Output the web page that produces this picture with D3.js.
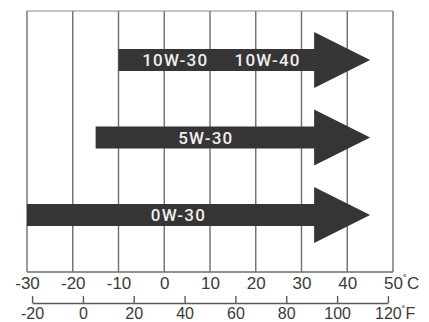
<!DOCTYPE html>
<html>
<head>
<meta charset="utf-8">
<script src="https://cdn.jsdelivr.net/npm/d3@7"></script>
<style>
  body { margin: 0; background: #fff; }
  svg { font-family: Roboto, "Liberation Sans", Arial, sans-serif; font-weight: 500; }
</style>
</head>
<body>
<svg id="chart"></svg>
<script>
// oil grade rows, temperature ranges in °C
const grades = ['10W-30 / 10W-40', '5W-30', '0W-30'];
const minTemp = [-10, -15, -30];
const maxTemp = [45, 45, 45];
const gradeLabels = [['10W-30', '10W-40'], ['5W-30'], ['0W-30']];
const labelTemp = [[2.4, 22.6], [9.1], [3.1]];

const celsiusTicks = [-30, -20, -10, 0, 10, 20, 30, 40, 50];
const fahrenheitTicks = [-20, 0, 20, 40, 60, 80, 100, 120];

const width = 429, height = 322;
const margin = {top: 11, right: 36, bottom: 50, left: 27};

const svg = d3.select('#chart')
    .attr('width', width)
    .attr('height', height);

const x = d3.scaleLinear()
    .domain([-30, 50])
    .range([margin.left, width - margin.right]);

const plotBottom = height - margin.bottom;

const y = d3.scalePoint()
    .domain(grades)
    .range([60, 215]);

const toC = f => (f - 32) * 5 / 9;
const xF = d3.scaleLinear()
    .domain([-20, 120])
    .range([x(toC(-20)), x(toC(120))]);

// grid lines
svg.append('g')
    .selectAll('line')
    .data(celsiusTicks)
    .join('line')
    .attr('x1', d => x(d))
    .attr('x2', d => x(d))
    .attr('y1', margin.top)
    .attr('y2', plotBottom)
    .attr('stroke', '#6e6e6e')
    .attr('stroke-width', 1.4);

// frame top / bottom
svg.append('line')
    .attr('x1', x(-30)).attr('x2', x(50))
    .attr('y1', margin.top).attr('y2', margin.top)
    .attr('stroke', '#8a8a8a').attr('stroke-width', 1.2);
svg.append('line')
    .attr('x1', x(-30)).attr('x2', x(50))
    .attr('y1', plotBottom).attr('y2', plotBottom)
    .attr('stroke', '#6e6e6e').attr('stroke-width', 1.4);

// arrows
const bodyHalf = 11, headHalf = 28, headLen = 56;
const arrowPath = (lo, hi, cy) => {
    const x0 = x(lo), tip = x(hi), hx = tip - headLen;
    return `M${x0},${cy - bodyHalf}H${hx}V${cy - headHalf}L${tip},${cy}L${hx},${cy + headHalf}V${cy + bodyHalf}H${x0}Z`;
};

svg.append('g')
    .selectAll('path')
    .data(grades)
    .join('path')
    .attr('d', (d, i) => arrowPath(minTemp[i], maxTemp[i], y(d)))
    .attr('fill', '#363435');

grades.forEach((g, i) => {
    svg.append('g')
        .selectAll('text')
        .data(gradeLabels[i])
        .join('text')
        .attr('x', (d, j) => x(labelTemp[i][j]))
        .attr('y', y(g))
        .attr('dy', '0.36em')
        .attr('text-anchor', 'middle')
        .attr('fill', '#eeeeee')
        .attr('font-size', 17)
        .attr('letter-spacing', 1.2)
        .text(d => d);
});

// celsius axis
const cAxis = d3.axisBottom(x)
    .tickValues(celsiusTicks)
    .tickFormat(d => String(d))
    .tickSize(0)
    .tickPadding(5);

const cAxisG = svg.append('g')
    .attr('transform', `translate(0,${plotBottom})`)
    .call(cAxis);
cAxisG.select('.domain').remove();
cAxisG.selectAll('text')
    .attr('font-size', 17)
    .attr('fill', '#3a3a3a')
    .attr('font-family', null);

// fahrenheit axis
const fAxis = d3.axisBottom(xF)
    .tickValues(fahrenheitTicks)
    .tickFormat(d => String(d))
    .tickSizeInner(-7)
    .tickSizeOuter(0)
    .tickPadding(5);

const fAxisG = svg.append('g')
    .attr('transform', `translate(0,303)`)
    .call(fAxis);
fAxisG.select('.domain')
    .attr('stroke', '#5a5a5a')
    .attr('stroke-width', 1.4);
fAxisG.selectAll('.tick line')
    .attr('stroke', '#5a5a5a')
    .attr('stroke-width', 1.4);
fAxisG.selectAll('text')
    .attr('font-size', 16)
    .attr('fill', '#3a3a3a')
    .attr('font-family', null);

// unit suffix on last label, number stays centred on its tick
function addUnit(g, unit) {
    const t = g.selectAll('.tick text').filter((d, i, n) => i === n.length - 1);
    const w = t.node().getComputedTextLength();
    t.attr('text-anchor', 'start').attr('x', -w / 2);
    t.append('tspan').attr('font-size', '0.7em').attr('dy', '-0.45em').text('˚');
    t.append('tspan').attr('dy', '0.32em').text(unit);
}
addUnit(cAxisG, 'C');
addUnit(fAxisG, 'F');
</script>
</body>
</html>
